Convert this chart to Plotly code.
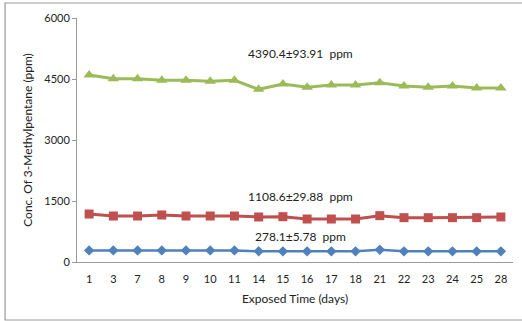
import plotly.graph_objects as go

days = ["1", "3", "7", "8", "9", "10", "11", "14", "15", "16", "17", "18",
        "21", "22", "23", "24", "25", "28"]
high = [4598, 4508, 4508, 4468, 4468, 4443, 4468, 4246, 4377, 4295, 4352, 4352,
        4410, 4328, 4295, 4328, 4279, 4279]
mid = [1180, 1131, 1131, 1156, 1131, 1131, 1131, 1107, 1115, 1057, 1057, 1057,
       1139, 1090, 1090, 1090, 1090, 1107]
low = [285, 285, 285, 285, 285, 285, 285, 265, 262, 262, 262, 262,
       300, 262, 262, 262, 262, 262]
labels = ["4390.4±93.91  ppm", "1108.6±29.88  ppm", "278.1±5.78  ppm"]
label_y = [5139, 1623, 615]
y_ticks = [0, 1500, 3000, 4500, 6000]

font = "Lato, 'Open Sans', sans-serif"

fig = go.Figure()
fig.add_trace(go.Scatter(x=days, y=low, mode="lines+markers",
                         line=dict(color="#4F81BD", width=2.5),
                         marker=dict(symbol="diamond", size=8, color="#4F81BD")))
fig.add_trace(go.Scatter(x=days, y=mid, mode="lines+markers",
                         line=dict(color="#C0504D", width=3),
                         marker=dict(symbol="square", size=9, color="#C0504D")))
fig.add_trace(go.Scatter(x=days, y=high, mode="lines+markers",
                         line=dict(color="#9BBB59", width=3),
                         marker=dict(symbol="triangle-up", size=10, color="#9BBB59")))

for t, yv in zip(labels, label_y):
    fig.add_annotation(x=0.512, xref="paper", y=yv, yref="y", text=t,
                       showarrow=False, font=dict(size=12, color="#222", family=font))

fig.add_shape(type="rect", xref="paper", yref="paper", x0=-0.165, x1=1.05,
              y0=-0.2377, y1=1.0615, line=dict(color="#999", width=1.2))

fig.update_layout(
    width=522, height=321,
    margin=dict(l=77, r=9, t=18, b=59),
    paper_bgcolor="white", plot_bgcolor="white",
    showlegend=False,
    font=dict(family=font, size=11, color="#222"),
    xaxis=dict(type="category", range=[-0.5, 17.5], showgrid=False, automargin=False,
               showline=True, linecolor="#999", linewidth=1, ticks="",
               tickfont=dict(size=11), ticklabelstandoff=7,
               title=dict(text="Exposed Time (days)", font=dict(size=12), standoff=10)),
    yaxis=dict(range=[0, 6000], tickvals=y_ticks, showgrid=False, zeroline=False,
               automargin=False,
               showline=True, linecolor="#999", linewidth=1, ticks="outside",
               ticklen=4, tickcolor="#999", tickfont=dict(size=11),
               title=dict(text="Conc. Of 3-Methylpentane (ppm)", font=dict(size=12), standoff=9)),
)

fig.write_html("out.html", config={"displayModeBar": False},
               post_script="document.body.style.margin='0';document.body.style.overflow='hidden';")
